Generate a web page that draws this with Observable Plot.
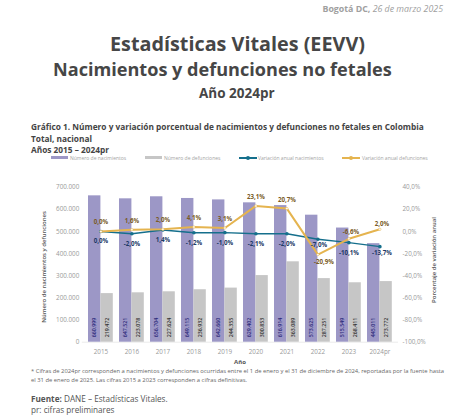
<!DOCTYPE html>
<html><head><meta charset="utf-8">
<script src="https://cdn.jsdelivr.net/npm/d3@7"></script>
<script src="https://cdn.jsdelivr.net/npm/@observablehq/plot@0.6"></script>
<style>
html,body{margin:0;padding:0;background:#fff;}
body{width:474px;height:419px;overflow:hidden;font-family:"Open Sans",sans-serif;color:#444;}
#head{position:relative;height:176px;}
#head div{position:absolute;white-space:nowrap;}
#chart{height:190px;}
#chart svg{display:block;}
#foot{position:relative;height:53px;}
#foot div{position:absolute;white-space:nowrap;}
.lg{font-size:5px;color:#a3a3a3;top:154.5px;}
.sw{height:3px;top:156px;}
.pt{width:4px;height:4px;border-radius:50%;top:155.5px;}
</style></head><body>
<div id="head">
<div style="right:31px;top:3px;font-size:8.8px;color:#a0a0a0;"><b>Bogotá DC,</b> <i>26 de marzo 2025</i></div>
<div style="left:110px;top:30px;font-size:19.8px;font-weight:700;color:#464646;">Estadísticas Vitales (EEVV)</div>
<div style="left:53px;top:57px;font-size:18.1px;font-weight:700;color:#464646;">Nacimientos y defunciones no fetales</div>
<div style="left:199px;top:84px;font-size:13.5px;font-weight:700;color:#464646;">Año 2024pr</div>
<div style="left:31px;top:121px;font-size:8.3px;font-weight:700;line-height:11.5px;color:#444;">Gráfico 1. Número y variación porcentual de nacimientos y defunciones no fetales en Colombia<br>Total, nacional<br>Años 2015 – 2024pr</div>
<div class="sw" style="left:51px;width:17px;background:#9c97c6;"></div><div class="lg" style="left:70px;">Número de nacimientos</div>
<div class="sw" style="left:145px;width:17px;background:#c6c6c6;"></div><div class="lg" style="left:164px;">Número de defunciones</div>
<div class="sw" style="left:239px;width:18px;height:1.5px;top:157px;background:#156f8c;"></div><div class="pt" style="left:246px;background:#156f8c;"></div><div class="lg" style="left:258px;">Variación anual nacimientos</div>
<div class="sw" style="left:342px;width:18px;height:1.5px;top:157px;background:#e5b44f;"></div><div class="pt" style="left:349px;background:#e5b44f;"></div><div class="lg" style="left:362px;">Variación anual defunciones</div>
</div>
<div id="chart"></div>
<div id="foot">
<div style="left:31px;top:1px;font-size:5.83px;line-height:8.5px;color:#666;">* Cifras de 2024pr corresponden a nacimientos y defunciones ocurridas entre el 1 de enero y el 31 de diciembre de 2024, reportadas por la fuente hasta<br>el 31 de enero de 2025. Las cifras 2015 a 2023 corresponden a cifras definitivas.</div>
<div style="left:31px;top:26.5px;font-size:8.2px;line-height:11px;color:#555;"><b>Fuente:</b> DANE – Estadísticas Vitales.<br>pr: cifras preliminares</div>
</div>
<script>
const years = ["2015","2016","2017","2018","2019","2020","2021","2022","2023","2024pr"];
const births = [660999,647521,656704,649115,642660,629402,616914,573625,515549,445011];
const deaths = [219472,223078,227624,236932,244355,300853,363089,287251,268411,273772];
const varBirths = [0,-2.0,1.4,-1.2,-1.0,-2.1,-2.0,-7.0,-10.1,-13.7];
const varDeaths = [0,1.6,2.0,4.1,3.1,23.1,20.7,-20.9,-6.6,2.0];
const leftTicks = [0,100000,200000,300000,400000,500000,600000,700000];
const rightTicks = [-100,-80,-60,-40,-20,0,20,40];

const dot = n => d3.format(",")(n).replace(/,/g,".");
const pct = p => p.toFixed(1).replace(".",",") + "%";
const toY = p => (p + 100) * 5000;   // secondary axis: -100%..40% onto 0..700000

const rows = years.map((year,i)=>({year,births:births[i],deaths:deaths[i],vb:varBirths[i],vd:varDeaths[i]}));

// halves each band: the births bar takes the left half, the deaths bar the right
const half = side => (i,s,v,d,c,n)=>{
  const g=n(i,s,v,d,c);
  d3.select(g).selectAll("rect").each(function(){
    const w=+this.getAttribute("width");
    if(side) this.setAttribute("x",+this.getAttribute("x")+w/2);
    this.setAttribute("width",w/2);
  });
  return g;
};
const vdLabel = (ys,dx,dy) => Plot.text(rows.filter(d=>ys.includes(d.year)),{x:"year",y:d=>toY(d.vd),text:d=>pct(d.vd),dx,dy,fontSize:6.2,fontWeight:700,fill:"#7a5c28"});
const vbLabel = (ys,dx,dy) => Plot.text(rows.filter(d=>ys.includes(d.year)),{x:"year",y:d=>toY(d.vb),text:d=>pct(d.vb),dx,dy,fontSize:6.2,fontWeight:700,fill:"#1d3a66"});

const H = 190;
const plot = Plot.plot({
  width:474, height:H,
  marginTop:10.7, marginBottom:H-165.7, marginLeft:81.8, marginRight:76,
  x:{domain:years,type:"band",padding:0.2,align:0.5,round:false,label:null},
  y:{domain:[0,700000],label:null},
  style:{fontFamily:"Open Sans, sans-serif",background:"#fff"},
  marks:[
    Plot.ruleY([0],{stroke:"#e4e4e4",strokeWidth:0.7}),
    Plot.barY(rows,{x:"year",y:"births",fill:"#9c97c6",render:half(0)}),
    Plot.barY(rows,{x:"year",y:"deaths",fill:"#c6c6c6",render:half(1)}),
    Plot.axisY(leftTicks,{anchor:"left",tickSize:0,tickPadding:3,tickFormat:dot,fontSize:6.3,color:"#999",label:null}),
    Plot.axisY(rightTicks.map(toY),{anchor:"right",tickSize:0,tickPadding:4,tickFormat:v=>pct(v/5000-100),fontSize:6.3,color:"#999",label:null}),
    Plot.axisX(years,{tickSize:0,tickPadding:7,fontSize:6.3,color:"#999",label:null}),
    Plot.line(rows,{x:"year",y:d=>toY(d.vb),stroke:"#156f8c",strokeWidth:1.4}),
    Plot.dot(rows,{x:"year",y:d=>toY(d.vb),r:1.8,fill:"#156f8c"}),
    Plot.line(rows,{x:"year",y:d=>toY(d.vd),stroke:"#e5b44f",strokeWidth:2}),
    Plot.dot(rows,{x:"year",y:d=>toY(d.vd),r:1.2,fill:"#fff",stroke:"#e5b44f",strokeWidth:0.5}),
    vdLabel(years.slice(0,7),0,-9),
    vdLabel(["2022"],6,7),
    vdLabel(["2023"],2,-7),
    vdLabel(["2024pr"],2,-5),
    vbLabel(["2015","2016","2017","2018","2019","2020","2021","2023"],0,10),
    vbLabel(["2022"],1,5.5),
    vbLabel(["2024pr"],2,6),
    Plot.text(rows,{x:"year",y:22000,dx:-6.2,rotate:-90,text:d=>dot(d.births),fontSize:5.3,fontWeight:600,fill:"#2c2a7a",textAnchor:"start"}),
    Plot.text(rows,{x:"year",y:22000,dx:6.2,rotate:-90,text:d=>dot(d.deaths),fontSize:5.3,fontWeight:600,fill:"#333",textAnchor:"start"})
  ]
});
document.getElementById("chart").append(plot);
const svg = d3.select(plot);
svg.append("text").attr("transform","translate(44,91) rotate(-90)").attr("text-anchor","middle").attr("dominant-baseline","middle").attr("font-size",6).attr("font-weight",600).attr("fill","#555").text("Número de nacimientos y defunciones");
svg.append("text").attr("transform","translate(434,84) rotate(-90)").attr("text-anchor","middle").attr("dominant-baseline","middle").attr("font-size",6).attr("font-weight",600).attr("fill","#555").text("Porcentaje de variación anual");
svg.append("text").attr("x",240).attr("y",188).attr("text-anchor","middle").attr("font-size",6).attr("font-weight",700).attr("fill","#555").text("Año");
</script>
</body></html>
